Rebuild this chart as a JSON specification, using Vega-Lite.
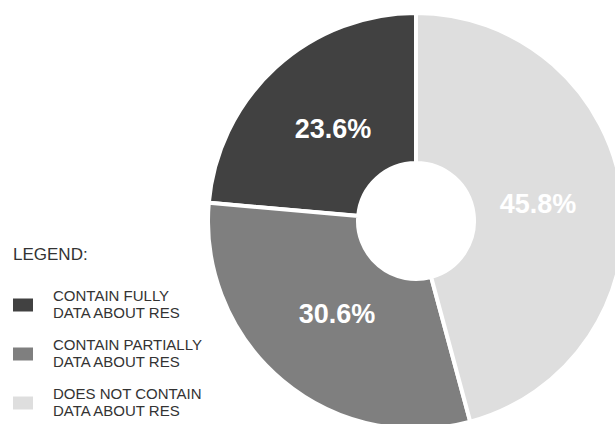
{
  "$schema": "https://vega.github.io/schema/vega-lite/v6.json",
  "width": 832,
  "height": 442,
  "padding": 0,
  "autosize": {"type": "none"},
  "background": "white",
  "config": {"view": {"stroke": null}},
  "data": {
    "values": [
      {"category": "CONTAIN FULLY|DATA ABOUT RES", "value": 23.6, "label": "23.6%"},
      {"category": "CONTAIN PARTIALLY|DATA ABOUT RES", "value": 30.6, "label": "30.6%"},
      {"category": "DOES NOT CONTAIN|DATA ABOUT RES", "value": 45.8, "label": "45.8%"}
    ]
  },
  "encoding": {
    "theta": {"field": "value", "type": "quantitative", "stack": true},
    "order": {"field": "value", "type": "quantitative", "sort": "descending"}
  },
  "layer": [
    {
      "mark": {"type": "arc", "outerRadius": 208, "innerRadius": 58, "stroke": "white", "strokeWidth": 4},
      "encoding": {
        "color": {
          "field": "category",
          "type": "nominal",
          "scale": {
            "domain": ["CONTAIN FULLY|DATA ABOUT RES", "CONTAIN PARTIALLY|DATA ABOUT RES", "DOES NOT CONTAIN|DATA ABOUT RES"],
            "range": ["#414141", "#7f7f7f", "#dedede"]
          },
          "legend": {
            "title": "LEGEND:",
            "orient": "none",
            "legendX": 13,
            "legendY": 247,
            "titleFont": "Liberation Sans",
            "titleFontSize": 17,
            "titleFontWeight": "normal",
            "titleColor": "#333333",
            "titlePadding": 31,
            "labelFont": "Liberation Sans",
            "labelFontSize": 15,
            "labelColor": "#333333",
            "labelBaseline": "line-bottom",
            "labelExpr": "split(datum.label, '|')",
            "labelLimit": 300,
            "labelOffset": 20,
            "symbolType": "M-1,-0.65L1,-0.65L1,0.65L-1,0.65Z",
            "symbolSize": 400,
            "symbolStrokeWidth": 0,
            "rowPadding": 17
          }
        }
      }
    },
    {
      "mark": {"type": "text", "radius": 123, "fontSize": 27, "fontWeight": "bold", "fill": "white", "font": "Liberation Sans", "align": "center", "baseline": "middle"},
      "encoding": {
        "detail": {"field": "category", "type": "nominal"},
        "text": {"field": "label", "type": "nominal"}
      }
    }
  ]
}
